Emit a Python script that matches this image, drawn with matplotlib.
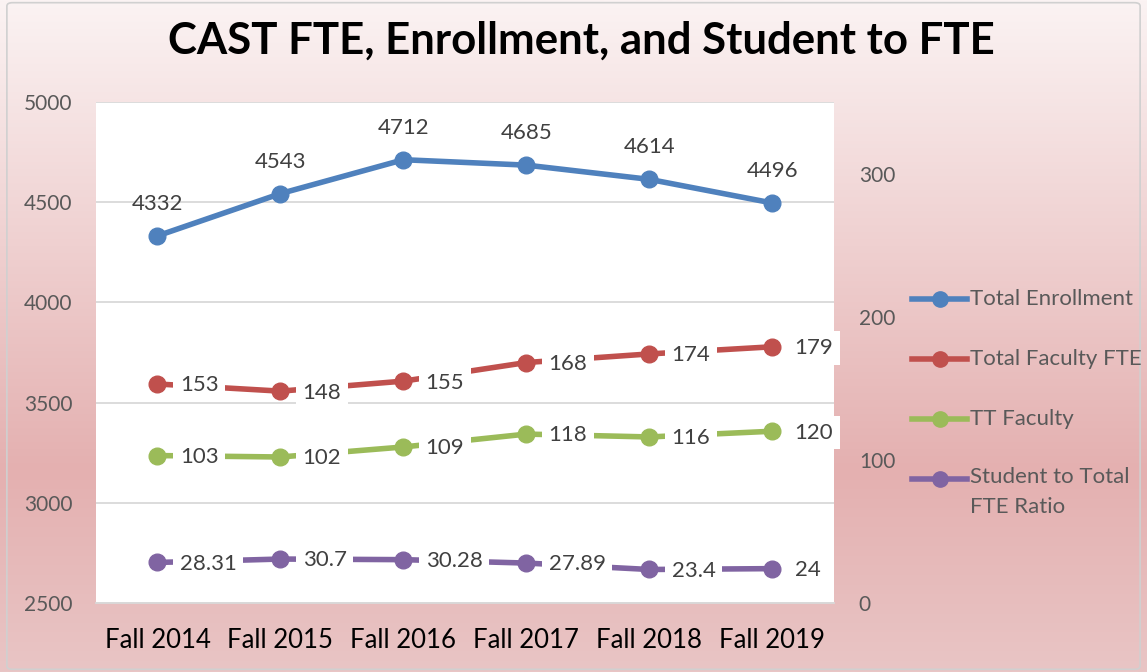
import matplotlib
matplotlib.use("Agg")
import matplotlib.pyplot as plt
import numpy as np
from matplotlib.colors import LinearSegmentedColormap
from matplotlib.lines import Line2D
from matplotlib.patches import FancyBboxPatch

categories = ["Fall 2014", "Fall 2015", "Fall 2016", "Fall 2017", "Fall 2018", "Fall 2019"]
enrollment = [4332, 4543, 4712, 4685, 4614, 4496]
faculty_fte = [153, 148, 155, 168, 174, 179]
tt_faculty = [103, 102, 109, 118, 116, 120]
ratio = [28.31, 30.7, 30.28, 27.89, 23.4, 24]
ratio_labels = ["28.31", "30.7", "30.28", "27.89", "23.4", "24"]
series_names = ["Total Enrollment", "Total Faculty FTE", "TT Faculty", "Student to Total\nFTE Ratio"]

plt.rcParams['font.family'] = ['Lato', 'DejaVu Sans']

W, H = 1147, 672
fig = plt.figure(figsize=(W / 100, H / 100), dpi=100)

# gradient background
bg = fig.add_axes([0, 0, 1, 1], zorder=-10)
cmap = LinearSegmentedColormap.from_list(
    "bgc", [(0.0, "#fbf3f3"), (0.70, "#e4b0b0"), (1.0, "#e9c5c5")])
grad = np.linspace(0, 1, 256).reshape(-1, 1)
bg.imshow(grad, aspect="auto", cmap=cmap, extent=[0, 1, 0, 1], origin="upper")
bg.set_xlim(0, 1); bg.set_ylim(0, 1)
bg.axis("off")
bg.add_patch(FancyBboxPatch((0.006, 0.004), 0.988, 0.992, boxstyle="round,pad=0,rounding_size=0.005",
                            fill=False, edgecolor="#d0d0d0", lw=1.2, transform=bg.transAxes))

ax = fig.add_axes([0.0837, 0.1027, 0.6433, 0.7455])
ax.set_facecolor("white")
ax2 = ax.twinx()

x = np.arange(len(categories))
blue = "#4f81bd"; red = "#c0504d"; green = "#9bbb59"; purple = "#8064a2"
colors = [blue, red, green, purple]
lw = 4; ms = 12

ax.plot(x, enrollment, color=blue, lw=lw, marker="o", ms=ms, zorder=3)
ax2.plot(x, faculty_fte, color=red, lw=lw, marker="o", ms=ms, zorder=3)
ax2.plot(x, tt_faculty, color=green, lw=lw, marker="o", ms=ms, zorder=3)
ax2.plot(x, ratio, color=purple, lw=lw, marker="o", ms=ms, zorder=3)

ax.set_xlim(-0.5, 5.5)
ax.set_ylim(2500, 5000)
ax.set_yticks([2500, 3000, 3500, 4000, 4500, 5000])
ax2.set_ylim(0, 350)
ax2.set_yticks([0, 100, 200, 300])

ax.grid(axis="y", color="#d9d9d9", lw=1.3)
ax.set_axisbelow(True)
for a in (ax, ax2):
    for s in a.spines.values():
        s.set_visible(False)
ax.spines["bottom"].set_visible(True)
ax.spines["bottom"].set_color("#d9d9d9")
ax.spines["bottom"].set_linewidth(1.3)

ax.set_xticks(x)
ax.set_xticklabels(categories, fontsize=18.5, color="black")
ax.tick_params(axis="x", length=0, pad=18)
ax.tick_params(axis="y", length=0, labelsize=15, labelcolor="#595959", pad=17)
ax2.tick_params(axis="y", length=0, labelsize=15, labelcolor="#595959", pad=18)
for lbl in ax2.get_yticklabels():
    lbl.set_horizontalalignment("left")

lab_kw = dict(fontsize=16, color="#404040", zorder=5)
box = dict(boxstyle="square,pad=0.3", fc="white", ec="none")
for xi, v in zip(x, enrollment):
    ax.annotate(str(v), (xi, v), xytext=(0, 23), textcoords="offset points",
                ha="center", va="center", **lab_kw)
for series in (faculty_fte, tt_faculty):
    for xi, v in zip(x, series):
        ax2.annotate(str(v), (xi, v), xytext=(16, -1), textcoords="offset points",
                     ha="left", va="center", bbox=box, **lab_kw)
for xi, v, t in zip(x, ratio, ratio_labels):
    ax2.annotate(t, (xi, v), xytext=(16, -1), textcoords="offset points",
                 ha="left", va="center", bbox=box, **lab_kw)

fig.text(0.507, 0.940, "CAST FTE, Enrollment, and Student to FTE", ha="center", va="center",
         fontsize=31.5, fontweight="bold", color="black")

# legend (drawn manually so the handle aligns with the first label line)
leg_y = [299, 359, 419, 479]
for c, name, yy in zip(colors, series_names, leg_y):
    yf = 1 - yy / H
    fig.add_artist(Line2D([912 / W, 967 / W], [yf, yf], color=c, lw=4,
                          transform=fig.transFigure))
    fig.add_artist(Line2D([940 / W], [yf], color=c, marker="o", ms=11, lw=0,
                          transform=fig.transFigure))
    if "\n" in name:
        fig.text(970 / W, 1 - (yy - 12) / H, name, ha="left", va="top",
                 fontsize=16, color="#595959", linespacing=1.6)
    else:
        fig.text(970 / W, yf, name, ha="left", va="center",
                 fontsize=16, color="#595959")

fig.savefig("out.png", dpi=100)
